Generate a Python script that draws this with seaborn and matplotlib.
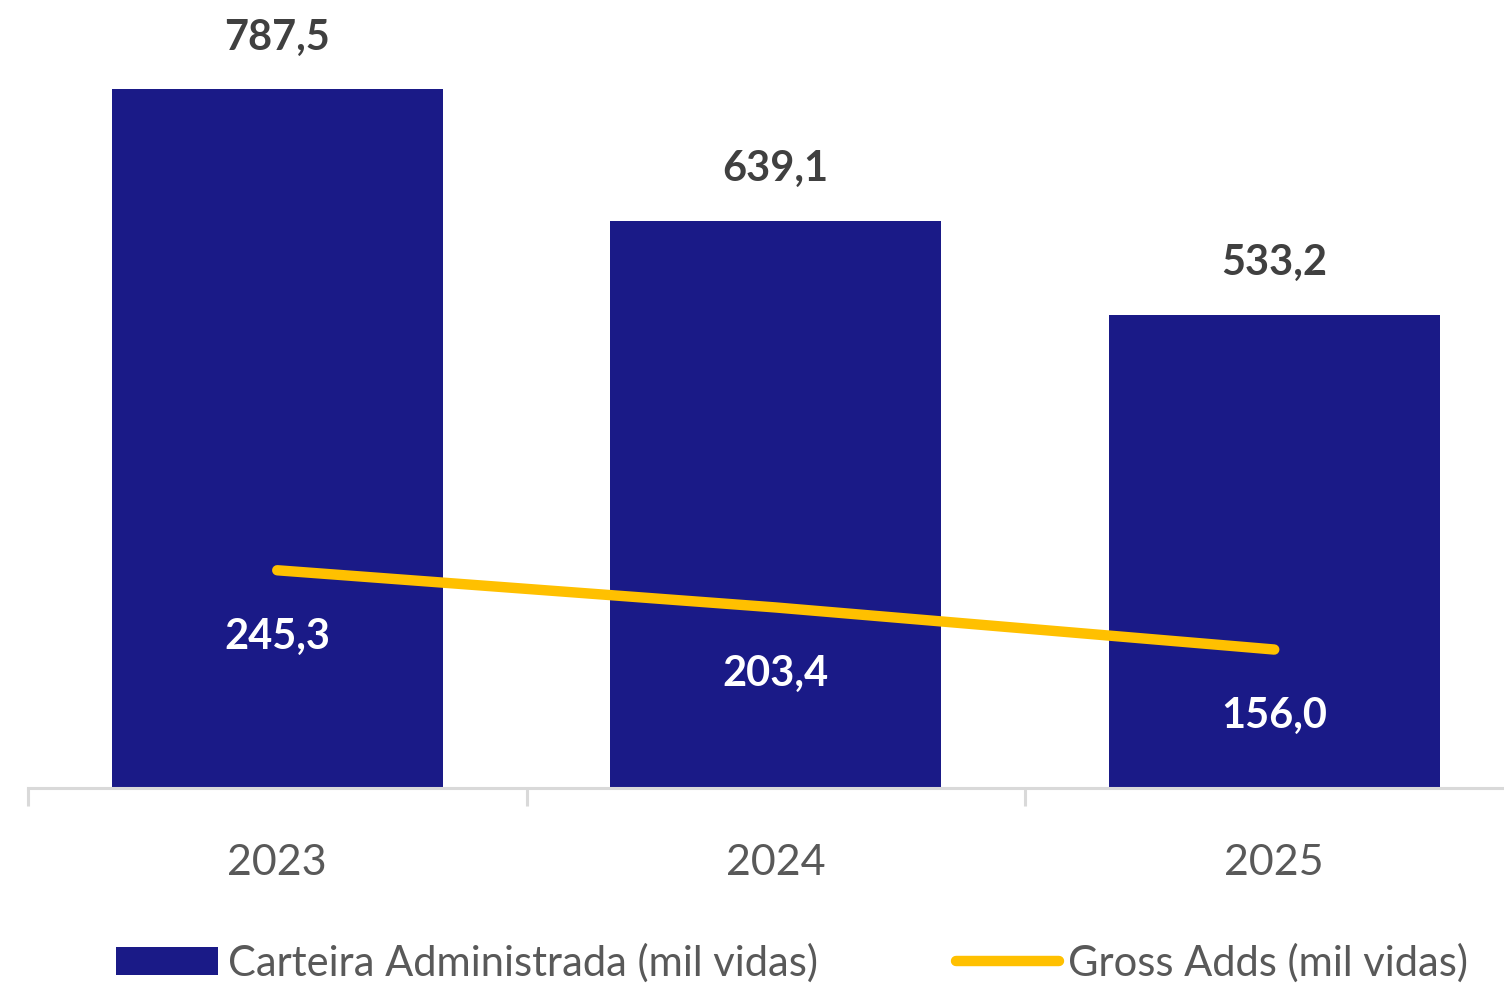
import matplotlib
matplotlib.use('Agg')
import matplotlib.pyplot as plt
import seaborn as sns
import numpy as np
import pandas as pd
from matplotlib.lines import Line2D
from matplotlib.patches import Patch

# data
anos = ['2023', '2024', '2025']
carteira = [787.5, 639.1, 533.2]
gross_adds = [245.3, 203.4, 156.0]
label_carteira = 'Carteira Administrada (mil vidas)'
label_gross = 'Gross Adds (mil vidas)'

azul = '#1a1a87'
amarelo = '#ffc000'
cinza_txt = '#595959'
cinza_lbl = '#404040'

sns.set_style('white')
plt.rcParams['font.family'] = ['Lato', 'DejaVu Sans']

df = pd.DataFrame({'ano': anos, 'carteira': carteira, 'gross': gross_adds})

fig = plt.figure(figsize=(15.04, 9.83), dpi=100)
W, H = 1504, 983
ax = fig.add_axes([28 / W, 195 / H, 1 - 28 / W, 788 / H])

sns.barplot(data=df, x='ano', y='carteira', color=azul, width=0.664,
            linewidth=0, saturation=1, ax=ax)
sns.lineplot(x=np.arange(len(anos)), y=df['gross'], color=amarelo, linewidth=7.5,
             solid_capstyle='round', ax=ax)

# value labels
for i, v in enumerate(carteira):
    ax.annotate(f'{v:.1f}'.replace('.', ','), (i, v), xytext=(0, 37),
                textcoords='offset points', ha='center', va='center',
                fontsize=30, fontweight='bold', color=cinza_lbl)
for i, v in enumerate(gross_adds):
    ax.annotate(f'{v:.1f}'.replace('.', ','), (i, v), xytext=(0, -48),
                textcoords='offset points', ha='center', va='center',
                fontsize=30, fontweight='bold', color='white')

# axes styling
for s in ['top', 'right', 'left']:
    ax.spines[s].set_visible(False)
ax.spines['bottom'].set_color('#d9d9d9')
ax.spines['bottom'].set_linewidth(2.2)
ax.set_yticks([])
ax.set_xticks(range(len(anos)))
ax.set_xticklabels(anos, fontsize=31, color=cinza_txt)
ax.set_xticks([-0.5, 0.5, 1.5, 2.5], minor=True)
ax.tick_params(axis='x', which='both', bottom=True)
ax.tick_params(axis='x', which='major', length=0, pad=40)
ax.tick_params(axis='x', which='minor', length=13, width=2.2, color='#d9d9d9', direction='out')
ax.set_xlabel('')
ax.set_ylabel('')

ax.set_xlim(-0.5, -0.5 + (W - 28) / 498.5)
ax.set_ylim(0, 788 / 0.8876)

handles = [Patch(facecolor=azul, edgecolor='none', label=label_carteira),
           Line2D([0], [0], color=amarelo, linewidth=7.5, solid_capstyle='round', label=label_gross)]
leg = fig.legend(handles=handles, loc='center left', bbox_to_anchor=(116 / W, 20 / H),
                 ncol=2, frameon=False, fontsize=30, borderpad=0, borderaxespad=0,
                 handlelength=2.45, handleheight=0.68, handletextpad=0.24, columnspacing=3.32)
for t in leg.get_texts():
    t.set_color(cinza_txt)

fig.savefig('out.png', dpi=100)
